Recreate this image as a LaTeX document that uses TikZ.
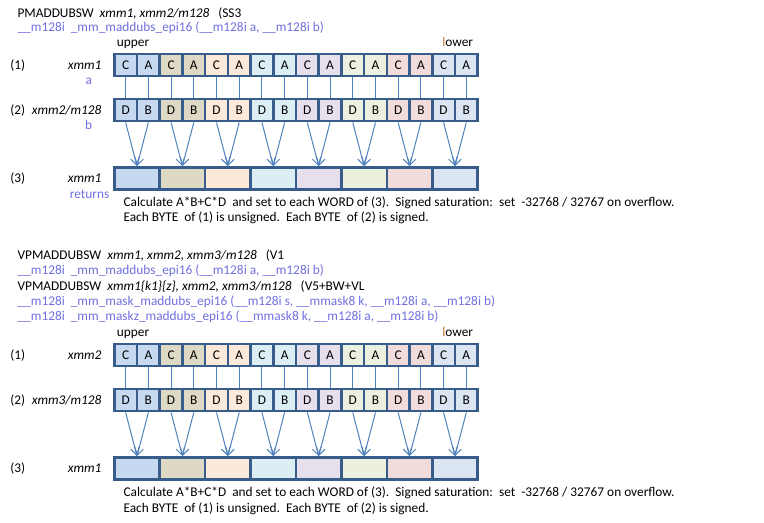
\documentclass[tikz,border=0pt]{standalone}
\usepackage{fontspec}
\setmainfont{Carlito}
\usetikzlibrary{arrows.meta}
\definecolor{frame}{RGB}{56,93,138}
\definecolor{linkc}{RGB}{79,129,189}
\definecolor{purp}{RGB}{112,112,224}
\definecolor{lorange}{RGB}{196,120,40}
\definecolor{c0}{RGB}{198,217,241}
\definecolor{c1}{RGB}{221,217,196}
\definecolor{c2}{RGB}{253,233,217}
\definecolor{c3}{RGB}{218,238,243}
\definecolor{c4}{RGB}{229,224,236}
\definecolor{c5}{RGB}{235,241,222}
\definecolor{c6}{RGB}{242,220,219}
\definecolor{c7}{RGB}{220,230,242}
\tikzset{
  txt/.style={font=\fontsize{10}{12}\selectfont, inner sep=0pt, text=black},
  ptxt/.style={txt, text=purp},
  cell/.style={draw=frame, line width=1.9pt, minimum width=22.71*0.75pt, minimum height=22*0.75pt, inner sep=0pt, font=\fontsize{10}{12}\selectfont},
  wordbox/.style={draw=frame, line width=1.9pt, minimum width=45.42*0.75pt, minimum height=22*0.75pt, inner sep=0pt},
  link/.style={draw=linkc, line width=0.75pt},
  arr/.style={draw=linkc, line width=0.75pt, -{Straight Barb[length=5.5pt,width=6.5pt]}},
}
\newcommand\regblock[2]{%
  \foreach \i in {0,...,7} {
    \pgfmathsetmacro\xa{114.3+22.71*(2*\i+0.5)}
    \pgfmathsetmacro\xb{114.3+22.71*(2*\i+1.5)}
    \pgfmathsetmacro\xw{114.3+45.42*(\i+0.5)}
    \pgfmathsetmacro\ya{#2+64.8}
    \pgfmathsetmacro\yb{#2+110.2}
    \pgfmathsetmacro\yc{#2+178.4}
    \node[cell, fill=c\i] (#1c\i) at (\xa,\ya) {C};
    \node[cell, fill=c\i] (#1a\i) at (\xb,\ya) {A};
    \node[cell, fill=c\i] (#1d\i) at (\xa,\yb) {D};
    \node[cell, fill=c\i] (#1b\i) at (\xb,\yb) {B};
    \node[wordbox, fill=c\i] (#1w\i) at (\xw,\yc) {};
  }
  \foreach \i in {0,...,7} {
    \draw[link] (#1c\i.south) -- (#1d\i.north);
    \draw[link] (#1a\i.south) -- (#1b\i.north);
    \draw[arr] (#1d\i.south) -- (#1w\i.north);
    \draw[arr] (#1b\i.south) -- (#1w\i.north);
  }
}
\begin{document}
\begin{tikzpicture}[x=0.75pt,y=-0.75pt]
\useasboundingbox (0,0) rectangle (764,523);
\fill[white] (0,0) rectangle (764,523);
% ---------- top ----------
\node[txt, anchor=base west] (h1) at (17.3,17.5) {PMADDUBSW\ \ \textit{xmm1, xmm2/m128}\ \ \ (SS3};
\node[ptxt, anchor=base west] (h2) at (17.3,31.5) {\_\_m128i\ \ \_mm\_maddubs\_epi16 (\_\_m128i a, \_\_m128i b)};
\node[txt, anchor=base west] (up1) at (116.7,46.3) {upper};
\node[txt, anchor=base east] (lo1) at (473.3,46.3) {\textcolor{lorange}{l}ower};
\node[txt, anchor=base west] (n11) at (10,69.3) {(1)};
\node[txt, anchor=base east] (r11) at (101.7,69.3) {\textit{xmm1}};
\node[ptxt, anchor=base east] (pa) at (92.3,85) {a};
\node[txt, anchor=base west] (n12) at (10,114.7) {(2)};
\node[txt, anchor=base east] (r12) at (101.7,114.7) {\textit{xmm2/m128}};
\node[ptxt, anchor=base east] (pb) at (92.3,130) {b};
\node[txt, anchor=base west] (n13) at (10,182.7) {(3)};
\node[txt, anchor=base east] (r13) at (101.7,182.7) {\textit{xmm1}};
\node[ptxt, anchor=base east] (ret) at (109.5,199) {returns};
\node[txt, anchor=base west] (calc1) at (123.3,206.3) {Calculate A*B+C*D\ \ and set to each WORD of (3).\ \ Signed saturation:\ \ set\ \ -32768 / 32767 on overflow.};
\node[txt, anchor=base west] (each1) at (123.3,221.8) {Each BYTE\ \ of (1) is unsigned.\ \ Each BYTE\ \ of (2) is signed.};
\regblock{t}{0}
% ---------- bottom ----------
\node[txt, anchor=base west] (h3) at (17.3,259.3) {VPMADDUBSW\ \ \textit{xmm1, xmm2, xmm3/m128}\ \ \ (V1};
\node[ptxt, anchor=base west] (h4) at (17.3,274.8) {\_\_m128i\ \ \_mm\_maddubs\_epi16 (\_\_m128i a, \_\_m128i b)};
\node[txt, anchor=base west] (h5) at (17.3,290.2) {VPMADDUBSW\ \ \textit{xmm1\{k1\}\{z\}, xmm2, xmm3/m128}\ \ \ (V5+BW+VL};
\node[ptxt, anchor=base west] (h6) at (17.3,305.6) {\_\_m128i\ \ \_mm\_mask\_maddubs\_epi16 (\_\_m128i s, \_\_mmask8 k, \_\_m128i a, \_\_m128i b)};
\node[ptxt, anchor=base west] (h7) at (17.3,321) {\_\_m128i\ \ \_mm\_maskz\_maddubs\_epi16 (\_\_mmask8 k, \_\_m128i a, \_\_m128i b)};
\node[txt, anchor=base west] (up2) at (116.7,337) {upper};
\node[txt, anchor=base east] (lo2) at (473.3,337) {\textcolor{lorange}{l}ower};
\node[txt, anchor=base west] (n21) at (10,359.6) {(1)};
\node[txt, anchor=base east] (r21) at (101.7,359.6) {\textit{xmm2}};
\node[txt, anchor=base west] (n22) at (10,405) {(2)};
\node[txt, anchor=base east] (r22) at (101.7,405) {\textit{xmm3/m128}};
\node[txt, anchor=base west] (n23) at (10,473) {(3)};
\node[txt, anchor=base east] (r23) at (101.7,473) {\textit{xmm1}};
\node[txt, anchor=base west] (calc2) at (123.3,496.8) {Calculate A*B+C*D\ \ and set to each WORD of (3).\ \ Signed saturation:\ \ set\ \ -32768 / 32767 on overflow.};
\node[txt, anchor=base west] (each2) at (123.3,512.3) {Each BYTE\ \ of (1) is unsigned.\ \ Each BYTE\ \ of (2) is signed.};
\regblock{b}{290}
\end{tikzpicture}
\end{document}
